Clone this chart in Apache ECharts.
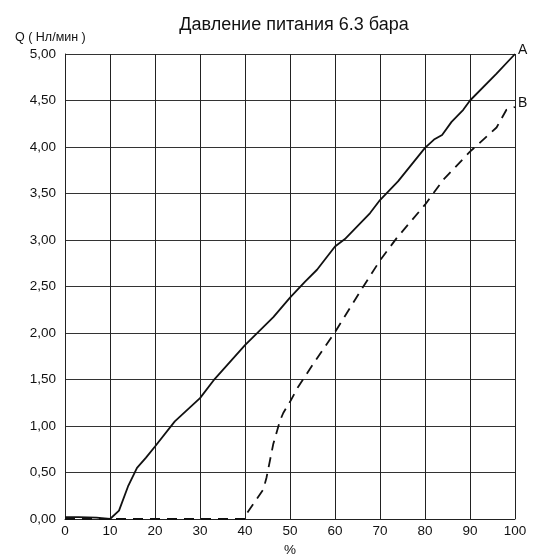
<!DOCTYPE html>
<html>
<head>
<meta charset="utf-8">
<script src="https://cdn.jsdelivr.net/npm/echarts@6/dist/echarts.min.js"></script>
<style>
html,body{margin:0;padding:0;background:#fff;}
#chart{width:533px;height:555px;}
</style>
</head>
<body>
<div id="chart"></div>
<script>
var titleText = 'Давление питания 6.3 бара';
var yAxisTitle = 'Q ( Нл/мин )';
var xAxisTitle = '%';

var seriesAX = [0, 3, 7, 10, 12, 14, 16, 18, 20, 24.4, 30, 33, 40, 46.3, 50, 53.3, 56, 60, 62.2, 67.8, 70, 74, 77, 80, 82, 83.8, 85.9, 88.5, 90, 95.9, 100];
var seriesAY = [0.02, 0.02, 0.015, 0, 0.09, 0.35, 0.55, 0.66, 0.78, 1.05, 1.30, 1.49, 1.87, 2.17, 2.38, 2.55, 2.68, 2.93, 3.01, 3.29, 3.43, 3.63, 3.81, 3.99, 4.08, 4.13, 4.27, 4.40, 4.50, 4.79, 5.00];

var seriesBX = [0, 10, 20, 30, 40, 40.4, 44.1, 44.8, 46.3, 47.8, 48.5, 50, 51.8, 55.2, 60, 66.3, 70, 73.7, 80, 84.1, 90, 95.9, 98.1, 100];
var seriesBY = [0, 0, 0, 0, 0, 0.06, 0.32, 0.45, 0.81, 1.06, 1.14, 1.26, 1.42, 1.67, 2.01, 2.50, 2.78, 3.02, 3.38, 3.65, 3.95, 4.21, 4.40, 4.43];

var labelA = 'A';
var labelB = 'B';

function pairs(xs, ys) {
  var out = [];
  for (var i = 0; i < xs.length; i++) out.push([xs[i], ys[i]]);
  return out;
}

var font = 'Liberation Sans, Arial, sans-serif';
var chart = echarts.init(document.getElementById('chart'), null, {renderer: 'canvas'});
chart.setOption({
  animation: false,
  backgroundColor: '#fff',
  title: [
    {text: titleText, left: 289, textAlign: 'center', top: 11, textStyle: {fontFamily: font, fontSize: 18, fontWeight: 'normal', color: '#111'}},
    {text: yAxisTitle, left: 10, top: 26, textStyle: {fontFamily: font, fontSize: 12.5, fontWeight: 'normal', color: '#111'}}
  ],
  grid: {left: 65, right: 18, top: 54, bottom: 36, containLabel: false, outerBoundsMode: 'none'},
  xAxis: {
    type: 'value', min: 0, max: 100, interval: 10,
    name: xAxisTitle, nameLocation: 'middle', nameGap: 19,
    nameTextStyle: {fontFamily: font, fontSize: 13.5, color: '#111'},
    axisLine: {show: true, lineStyle: {color: '#222', width: 1}},
    axisTick: {show: false},
    axisLabel: {fontFamily: font, fontSize: 13.5, color: '#111', margin: 5},
    splitLine: {show: true, lineStyle: {color: '#222', width: 1}}
  },
  yAxis: {
    type: 'value', min: 0, max: 5, interval: 0.5,
    axisLine: {show: true, lineStyle: {color: '#222', width: 1}},
    axisTick: {show: false},
    axisLabel: {fontFamily: font, fontSize: 13.5, color: '#111', margin: 9,
      formatter: function (v) { return v.toFixed(2).replace('.', ','); }},
    splitLine: {show: true, lineStyle: {color: '#333', width: 1}}
  },
  series: [
    {
      type: 'line', data: pairs(seriesAX, seriesAY), showSymbol: false, symbol: 'none',
      lineStyle: {color: '#111', width: 1.8},
      endLabel: {show: true, formatter: labelA, distance: 3, offset: [0, -4],
        fontFamily: font, fontSize: 14, color: '#111'}
    },
    {
      type: 'line', data: pairs(seriesBX, seriesBY), showSymbol: false, symbol: 'none',
      lineStyle: {color: '#111', width: 1.8, type: [10, 7]},
      endLabel: {show: true, formatter: labelB, distance: 3, offset: [0, -4],
        fontFamily: font, fontSize: 14, color: '#111'}
    }
  ]
});
</script>
</body>
</html>
